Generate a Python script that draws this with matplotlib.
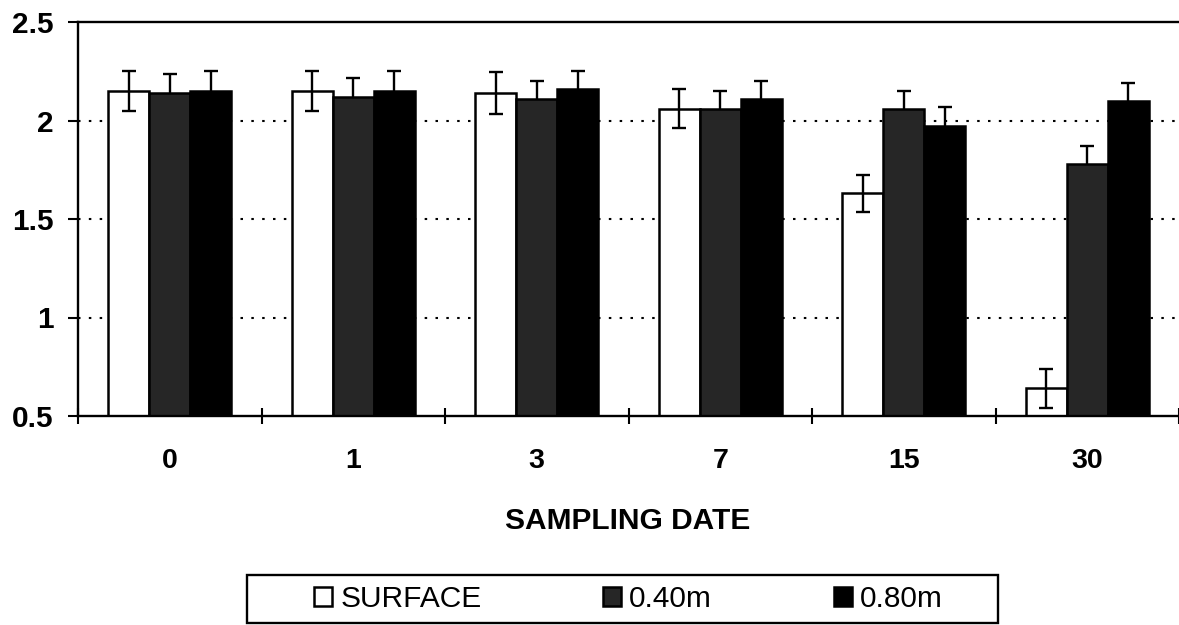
import matplotlib
matplotlib.use("Agg")
import matplotlib.pyplot as plt
from matplotlib.patches import Rectangle
import numpy as np

categories = ["0", "1", "3", "7", "15", "30"]
series_names = ["SURFACE", "0.40m", "0.80m"]
surface = [2.15, 2.15, 2.14, 2.06, 1.63, 0.64]
m040 = [2.14, 2.12, 2.11, 2.06, 2.06, 1.78]
m080 = [2.15, 2.15, 2.16, 2.11, 1.97, 2.10]
surface_err = [0.10, 0.10, 0.105, 0.10, 0.095, 0.10]
m040_err = [0.095, 0.095, 0.09, 0.09, 0.09, 0.09]
m080_err = [0.10, 0.10, 0.09, 0.09, 0.097, 0.09]
y_ticks = [0.5, 1, 1.5, 2, 2.5]
y_tick_labels = ["0.5", "1", "1.5", "2", "2.5"]

plt.rcParams["font.family"] = ["Liberation Sans", "DejaVu Sans"]

W, H = 1179, 625
fig = plt.figure(figsize=(W / 100, H / 100), dpi=100)
left, right, top, bottom = 78, 1179, 22, 416
ax = fig.add_axes([left / W, 1 - bottom / H, (right - left) / W, (bottom - top) / H])

x = np.arange(len(categories))
bw = 0.224
vals = [surface, m040, m080]
errs = [surface_err, m040_err, m080_err]
colors = ["white", "#262626", "black"]
err_z = [3, 1.5, 1.5]
handles = []
for i, (v, e, c, n) in enumerate(zip(vals, errs, colors, series_names)):
    pos = x + (i - 1) * bw
    b = ax.bar(pos, [val - 0.5 for val in v], bottom=0.5, width=bw, color=c,
               edgecolor="black", linewidth=1.8, label=n, zorder=2)
    ax.errorbar(pos, v, yerr=e, fmt="none", ecolor="black", elinewidth=1.7,
                capsize=5, capthick=1.7, zorder=err_z[i])
    handles.append(b)

ax.set_xlim(-0.5, len(categories) - 0.5)
ax.set_ylim(0.5, 2.5)
ax.set_yticks(y_ticks)
ax.set_yticklabels(y_tick_labels, fontsize=21.5, fontweight="bold")
ax.set_xticks(x)
ax.set_xticklabels(categories, fontsize=20.5, fontweight="bold")
ax.set_xticks(np.arange(len(categories) + 1) - 0.5, minor=True)
ax.tick_params(axis="x", which="major", length=0, pad=23)
ax.tick_params(axis="x", which="minor", direction="inout", length=11, width=1.5)
ax.tick_params(axis="y", which="major", direction="out", length=7.5, width=1.5, pad=10)

for gy in [1, 1.5, 2]:
    ax.axhline(gy, color="black", linewidth=1.5, linestyle=(0, (1.2, 4)), zorder=1)

for s in ["left", "bottom", "top"]:
    ax.spines[s].set_linewidth(1.7)
ax.spines["right"].set_visible(False)

ax.set_xlabel("SAMPLING DATE", fontsize=21.5, fontweight="bold", va="center")
ax.xaxis.set_label_coords((628 - left) / (right - left), (bottom - 521) / (bottom - top))

leg = ax.legend(handles=handles, loc="center", bbox_to_anchor=(628.5 / W, 1 - 599 / H),
                bbox_transform=fig.transFigure, ncol=3, frameon=False, fontsize=21.5,
                handlelength=0.6, handleheight=0.6, handletextpad=0.27,
                columnspacing=4.07, borderpad=0.1)
fig.patches.append(Rectangle((247 / W, 1 - 623 / H), (998 - 247) / W, (623 - 575) / H,
                             transform=fig.transFigure, fill=False, edgecolor="black",
                             linewidth=1.7))

fig.savefig("out.png", dpi=100)
